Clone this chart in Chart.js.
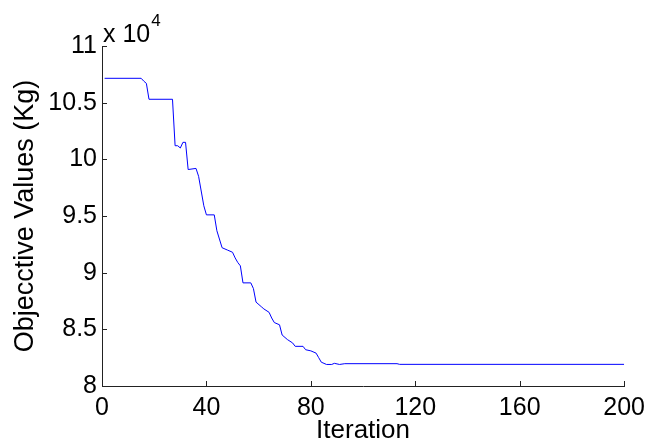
<!DOCTYPE html>
<html lang="en">

<head>
    <meta charset="UTF-8">
    <title>Objective Values</title>
    <style>
        html, body { margin: 0; padding: 0; background: #fff; }
        #wrap { width: 652px; height: 444px; }
    </style>
</head>

<body>
    <div id="wrap"><canvas id="Chart" width="652" height="444"></canvas></div>

    <script src="https://cdn.jsdelivr.net/npm/chart.js"></script>
    <script>
        // convergence curve (Kg)
        const iterations = [1, 15, 16, 17, 18, 27, 28, 29, 30, 31, 32, 33, 36, 37, 39, 40, 43, 44, 46, 48,
            50, 51, 52, 53, 54, 57, 58, 59, 61, 62, 64, 65, 66, 68, 69, 71, 73, 74, 77, 78,
            80, 82, 83, 84, 86, 88, 89, 91, 93, 113, 114, 200];
        const objective = [107150, 107150, 106900, 106700, 105300, 105300, 101200, 101200, 101000, 101500, 101500, 99100, 99200, 98500, 95900, 95100, 95100, 93700, 92200, 92000,
            91800, 91300, 90900, 90600, 89100, 89100, 88600, 87400, 87000, 86800, 86500, 86000, 85600, 85400, 84500, 84100, 83800, 83500, 83500, 83200,
            83100, 82900, 82500, 82100, 81900, 81900, 82000, 81900, 81970, 81970, 81910, 81910];
        const xTicks = [0, 40, 80, 120, 160, 200];
        const yTicks = [80000, 85000, 90000, 95000, 100000, 105000, 110000];

        const fontFamily = '"Liberation Sans", Arial, Helvetica, sans-serif';

        // matlab style: ticks point into the plot, plus the "x 10^4" note
        const matlabTicks = {
            id: 'matlabTicks',
            afterDraw(chart) {
                const ctx = chart.ctx;
                const xs = chart.scales.x, ys = chart.scales.y;
                const area = chart.chartArea;
                ctx.save();
                ctx.strokeStyle = '#222';
                ctx.lineWidth = 1;
                ctx.beginPath();
                xTicks.forEach(v => {
                    const px = Math.round(xs.getPixelForValue(v)) + 0.5;
                    ctx.moveTo(px, area.bottom);
                    ctx.lineTo(px, area.bottom - 5);
                });
                yTicks.forEach(v => {
                    const py = Math.round(ys.getPixelForValue(v)) + 0.5;
                    ctx.moveTo(area.left, py);
                    ctx.lineTo(area.left + 5, py);
                });
                ctx.stroke();

                ctx.fillStyle = '#000';
                ctx.textBaseline = 'alphabetic';
                ctx.font = '25px ' + fontFamily;
                ctx.fillText('x 10', area.left + 1, area.top - 4);
                const w = ctx.measureText('x 10').width;
                ctx.font = '17px ' + fontFamily;
                ctx.fillText('4', area.left + 2 + w, area.top - 20);
                ctx.restore();
            }
        };

        var ctx = document.getElementById('Chart').getContext('2d');
        var chart = new Chart(ctx, {
            type: 'line',
            data: {
                datasets: [{
                    label: 'Objective',
                    data: iterations.map((it, i) => ({ x: it, y: objective[i] })),
                    borderColor: '#0000ff',
                    borderWidth: 1,
                    pointRadius: 0,
                    fill: false,
                    tension: 0
                }]
            },
            options: {
                responsive: false,
                animation: false,
                layout: { padding: { top: 46, right: 25, left: 0, bottom: 0 } },
                plugins: {
                    legend: { display: false },
                    tooltip: { enabled: false }
                },
                scales: {
                    x: {
                        type: 'linear',
                        min: 0,
                        max: 200,
                        afterFit: s => { s.height = 58; },
                        afterBuildTicks: s => { s.ticks = xTicks.map(v => ({ value: v })); },
                        grid: { display: true, drawOnChartArea: false, drawTicks: false },
                        border: { display: true, color: '#222', width: 1 },
                        ticks: {
                            padding: 7,
                            color: '#000',
                            maxRotation: 0,
                            font: { family: fontFamily, size: 25 }
                        },
                        title: {
                            display: true,
                            text: 'Iteration',
                            color: '#000',
                            padding: { top: 0, bottom: -2 },
                            font: { family: fontFamily, size: 26 }
                        }
                    },
                    y: {
                        min: 80000,
                        max: 110000,
                        afterFit: s => { s.width = 102; },
                        afterBuildTicks: s => { s.ticks = yTicks.map(v => ({ value: v })); },
                        grid: { display: true, drawOnChartArea: false, drawTicks: false },
                        border: { display: true, color: '#222', width: 1 },
                        ticks: {
                            padding: 5,
                            color: '#000',
                            font: { family: fontFamily, size: 25 },
                            callback: v => String(v / 10000)
                        },
                        title: {
                            display: true,
                            text: 'Objecctive Values (Kg)',
                            color: '#000',
                            padding: { top: 9, bottom: 0 },
                            font: { family: fontFamily, size: 27 }
                        }
                    }
                }
            },
            plugins: [matlabTicks]
        });
    </script>

</body>

</html>
